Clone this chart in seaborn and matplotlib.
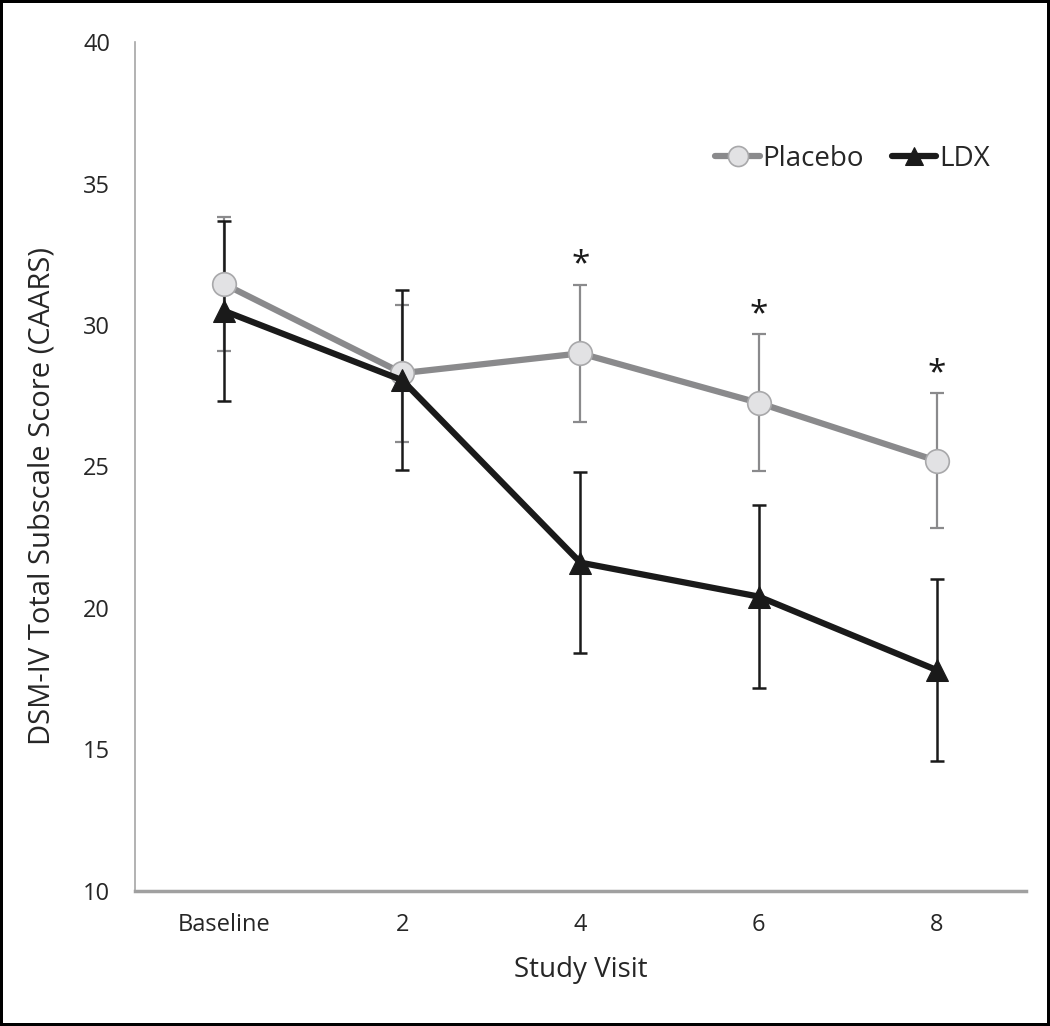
import numpy as np
import pandas as pd
import matplotlib
matplotlib.use("Agg")
import matplotlib.pyplot as plt
import seaborn as sns

# values
visits = ["Baseline", "2", "4", "6", "8"]
placebo_mean = [31.45, 28.3, 29.0, 27.25, 25.2]
placebo_err = [2.38, 2.42, 2.42, 2.42, 2.39]
ldx_mean = [30.5, 28.05, 21.6, 20.4, 17.8]
ldx_err = [3.18, 3.18, 3.19, 3.25, 3.21]
signif = [False, False, True, True, True]

sns.set_style("white")
plt.rcParams["font.family"] = ["Open Sans", "DejaVu Sans"]

df = pd.DataFrame({
    "visit": visits * 2,
    "score": placebo_mean + ldx_mean,
    "group": ["Placebo"] * 5 + ["LDX"] * 5,
})

fig = plt.figure(figsize=(10.5, 10.26), dpi=100)
fig.patch.set_edgecolor("black")
fig.patch.set_linewidth(3)
ax = fig.add_axes([0.1286, 0.1319, 0.8484, 0.8269])

xpos = np.arange(len(visits))
grey = "#8a8a8c"

# error bars first so markers sit on top
ax.errorbar(xpos, placebo_mean, yerr=placebo_err, fmt="none", ecolor=grey,
            elinewidth=1.6, capsize=5, capthick=1.6, zorder=2)
ax.errorbar(xpos, ldx_mean, yerr=ldx_err, fmt="none", ecolor="#1a1a1a",
            elinewidth=1.8, capsize=5, capthick=1.8, zorder=2)

sns.lineplot(data=df[df.group == "Placebo"], x="visit", y="score", ax=ax,
             color=grey, lw=4.5, marker="o", ms=17, markerfacecolor="#e2e2e4",
             markeredgecolor="#a8a8aa", markeredgewidth=1.2, label="Placebo",
             zorder=3, sort=False)
sns.lineplot(data=df[df.group == "LDX"], x="visit", y="score", ax=ax,
             color="#1a1a1a", lw=4.5, marker="^", ms=16, markerfacecolor="#1a1a1a",
             markeredgecolor="#1a1a1a", label="LDX", zorder=4, sort=False)

# significance stars above placebo bars
for i, s in enumerate(signif):
    if s:
        ax.text(xpos[i], placebo_mean[i] + placebo_err[i] + 0.7, "*",
                ha="center", va="center", fontsize=24, color="#1a1a1a")

ax.set_xlim(-0.5, 4.5)
ax.set_ylim(10, 40)
ax.set_yticks([10, 15, 20, 25, 30, 35, 40])
ax.set_xticks(np.arange(-0.5, 5, 1))
ax.set_xticklabels([])
ax.set_xticks(xpos, minor=True)
ax.set_xticklabels(visits, minor=True)
ax.tick_params(axis="x", which="minor", length=0, pad=16, labelsize=17)
ax.tick_params(axis="x", which="major", length=7, width=1.3, color="#a0a0a0",
               direction="out")
ax.tick_params(axis="y", length=6, width=1.3, color="#a0a0a0", direction="out",
               pad=12, labelsize=17)
ax.grid(False)

for side in ["top", "right"]:
    ax.spines[side].set_visible(False)
ax.spines["left"].set_color("#a6a6a6")
ax.spines["left"].set_linewidth(1.2)
ax.spines["bottom"].set_color("#a0a0a0")
ax.spines["bottom"].set_linewidth(2.5)

ax.set_xlabel("Study Visit", fontsize=20, labelpad=14)
ax.set_ylabel("DSM-IV Total Subscale Score (CAARS)", fontsize=21)
ax.yaxis.set_label_coords(-0.088, 0.465)

ax.legend(loc="center", bbox_to_anchor=(0.812, 0.845), bbox_transform=fig.transFigure,
          ncol=2, frameon=False, fontsize=20, handlelength=1.6, handletextpad=0.1,
          columnspacing=1.0, markerscale=0.85)

fig.savefig("out.png", dpi=100, edgecolor=fig.get_edgecolor())
